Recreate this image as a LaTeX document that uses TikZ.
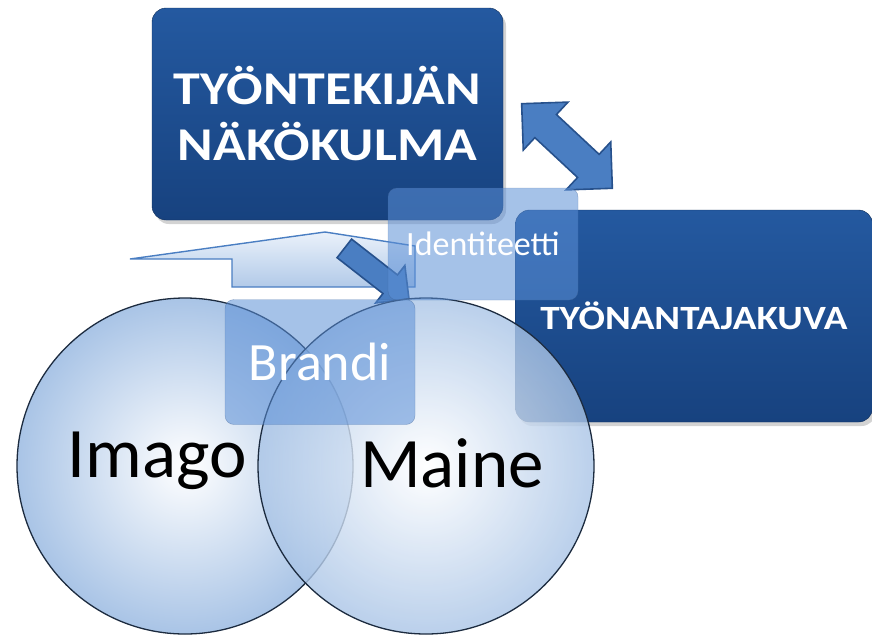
\documentclass[tikz,border=0pt]{standalone}
\usepackage{fontspec}
\setmainfont{Carlito}
\newfontfamily\titlefont[FakeStretch=1.15]{Carlito}
\usetikzlibrary{shapes.arrows, shadows}

\definecolor{boxdark}{HTML}{17427F}
\definecolor{boxtop}{HTML}{2459A0}
\definecolor{glass}{HTML}{5B8FD6}
\definecolor{arrowmid}{HTML}{4A7EC2}
\definecolor{arrowline}{HTML}{27518C}
\definecolor{ringline}{HTML}{1C2B3F}
\definecolor{ballblue}{HTML}{A9C4E6}
\definecolor{paleblue}{HTML}{DCE8F7}

\begin{document}
\begin{tikzpicture}[x=1pt, y=-1pt,
    % Styles
    mainbox/.style={rectangle, draw=boxdark!70!black, top color=boxtop, bottom color=boxdark,
        rounded corners=14pt, text=white, align=center,
        drop shadow={opacity=0.35, shadow xshift=3pt, shadow yshift=-4pt}},
    glassbox/.style={rectangle, draw=glass!70!black, draw opacity=0.5, fill=glass,
        fill opacity=0.55, text opacity=1, rounded corners=9pt, text=white},
    ring/.style={circle, draw=ringline, line width=1.3pt, inner color=white,
        outer color=ballblue, minimum size=336pt, inner sep=0pt},
    bigword/.style={font=\fontsize{71}{80}\selectfont, text=black},
    turn/.style={draw=arrowline, line width=1.6pt, fill=arrowmid, inner xsep=0pt}
]
\useasboundingbox (0,0) rectangle (872,637);

% --- boxes at the top ---
\node (worker) [mainbox, minimum width=351pt, minimum height=212pt,
    font=\titlefont\bfseries\fontsize{47}{56}\selectfont]
    at (327.5,114) {TYÖNTEKIJÄN\\NÄKÖKULMA};
\node (swap) [turn, double arrow, inner ysep=15pt, double arrow head extend=17pt,
    minimum height=124pt, rotate=-43] at (567,146) {};
\node (employer) [mainbox, minimum width=357pt, minimum height=212pt,
    font=\titlefont\bfseries\fontsize{34}{40}\selectfont]
    at (694,316) {TYÖNANTAJAKUVA};

% --- bent arrow under the top box ---
\path[draw=arrowmid, line width=1.4pt, top color=paleblue!60!white, bottom color=ballblue!90!white]
    (130,259) -- (325,232) -- (415,246) -- (415,287) -- (232,287) -- (232,259) -- cycle;
\node (push) [turn, single arrow, inner ysep=11pt, single arrow head extend=12pt,
    minimum height=82pt, rotate=-38] at (372,270) {};

% --- rings ---
\node (imagoring) [ring] at (185,466) {};
\node (mainering) [ring, fill opacity=0.8] at (426,466) {};
\node (imago) [bigword] at (157,461) {Imago};
\node (maine) [bigword] at (452,463) {Maine};

% --- glass boxes ---
\node (brandi) [glassbox, minimum width=190pt, minimum height=125pt]
    at (320,362) {\fontsize{54}{60}\selectfont Brandi};
\node (identity) [glassbox, minimum width=190pt, minimum height=112pt]
    at (483,244) {\fontsize{34}{40}\selectfont Identiteetti};

\end{tikzpicture}
\end{document}
